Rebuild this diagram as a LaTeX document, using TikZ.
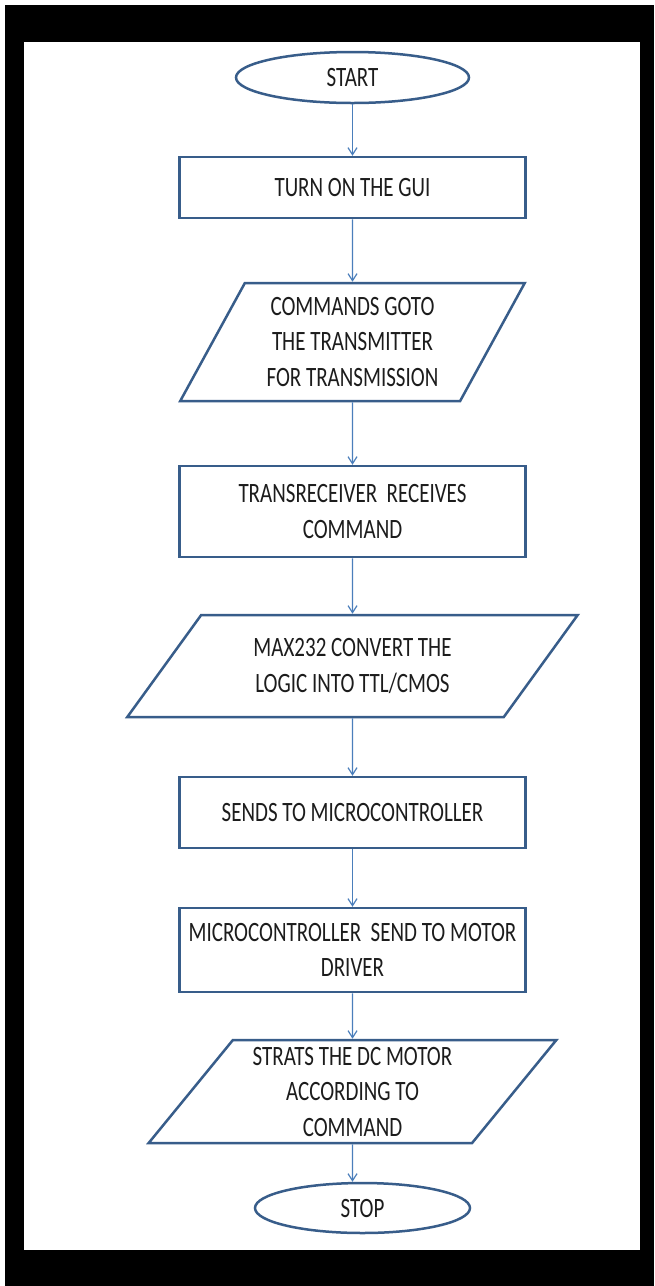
\documentclass[tikz,border=0pt]{standalone}
\usepackage{fontspec}
\setmainfont[FakeStretch=0.75]{Carlito}
\usetikzlibrary{shapes.geometric,arrows.meta}
\definecolor{shapeblue}{HTML}{385D8A}
\definecolor{arrowblue}{HTML}{4A7EBB}
\definecolor{txt}{HTML}{1C1C1C}
\tikzset{
  base/.style={draw=shapeblue, line width=2.5pt, inner sep=0pt, align=center,
    text=txt, font=\fontsize{28}{35.5}\selectfont},
  terminal/.style={base, ellipse},
  process/.style={base, rectangle, minimum width=346pt},
  io/.style={base, trapezium, trapezium stretches=true},
  arr/.style={draw=arrowblue, line width=1.2pt,
    -{Straight Barb[length=7pt,width=9pt,line width=1.2pt]}}
}
\begin{document}
\begin{tikzpicture}[x=1pt,y=-1pt]
\useasboundingbox (0,0) rectangle (654,1286);
\fill[white] (0,0) rectangle (654,1286);
\fill[black] (5,5) rectangle (654,1286);
\fill[white] (24,42) rectangle (640,1250);

\node[terminal, minimum width=233pt, minimum height=51pt] (start) at (352.5,77.5) {START};
\node[process, minimum height=61pt] (b1) at (352.5,187.5) {TURN ON THE GUI};
\node[io, minimum width=345pt, minimum height=118pt,
  trapezium left angle=60, trapezium right angle=120] (p1) at (352.5,342)
  {COMMANDS GOTO\\THE TRANSMITTER\\FOR TRANSMISSION};
\node[process, minimum height=91pt] (b2) at (352.5,511.5) {TRANSRECEIVER~ RECEIVES\\COMMAND};
\node[io, minimum width=451pt, minimum height=102pt,
  trapezium left angle=48.6, trapezium right angle=131.4] (p2) at (352.5,666)
  {MAX232 CONVERT THE\\LOGIC INTO TTL/CMOS};
\node[process, minimum height=71pt] (b3) at (352.5,812.5) {SENDS TO MICROCONTROLLER};
\node[process, minimum height=84pt] (b4) at (352.5,950) {MICROCONTROLLER~ SEND TO MOTOR\\DRIVER};
\node[io, minimum width=409pt, minimum height=103pt,
  trapezium left angle=51.8, trapezium right angle=128.2] (p3) at (352.5,1091.5)
  {STRATS THE DC MOTOR\\ACCORDING TO\\COMMAND};
\node[terminal, minimum width=215pt, minimum height=50pt] (stop) at (362.5,1208) {STOP};

\draw[arr] (start) -- (b1);
\draw[arr] (b1) -- (p1);
\draw[arr] (p1) -- (b2);
\draw[arr] (b2) -- (p2);
\draw[arr] (p2) -- (b3);
\draw[arr] (b3) -- (b4);
\draw[arr] (b4) -- (p3);
\draw[arr] (p3) -- (p3 |- stop.north);
\end{tikzpicture}
\end{document}
